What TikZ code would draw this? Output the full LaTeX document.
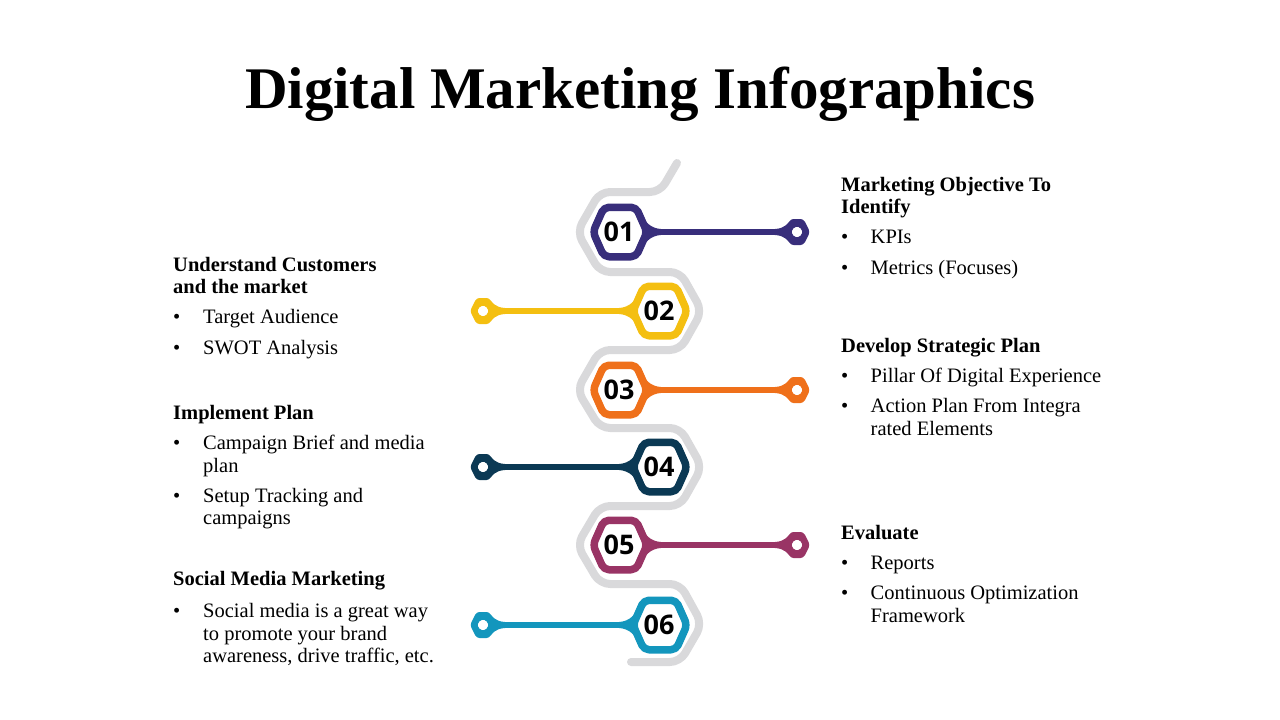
\documentclass[tikz,border=0pt]{standalone}
\usepackage{fontspec}
\setmainfont{Liberation Serif}
\newfontfamily\numfont{Open Sans}
\definecolor{cgrey}{RGB}{217,217,219}
\definecolor{cone}{RGB}{56,46,123}
\definecolor{ctwo}{RGB}{244,191,17}
\definecolor{cthree}{RGB}{239,112,26}
\definecolor{cfour}{RGB}{11,57,84}
\definecolor{cfive}{RGB}{153,52,101}
\definecolor{csix}{RGB}{19,150,189}
\tikzset{
  txt/.style={anchor=base west, inner sep=0pt, font=\fontsize{20.5}{24}\selectfont},
  hd/.style={anchor=base west, inner sep=0pt, font=\fontsize{20.5}{24}\selectfont\bfseries},
  num/.style={inner sep=0pt, font=\numfont\bfseries\fontsize{27}{30}\selectfont},
  spine/.style={draw=cgrey, line width=8pt, rounded corners=10pt, line cap=round, line join=round},
}
\newcommand\hexstep[6]{%
  \begin{scope}[shift={(#2,#3)}, xscale=#4]
    \draw[line width=5.5pt, #5] (25,0) -- (160,0);
    \fill[#5] (0,-20) -- (19,-21) .. controls (27,-6) and (33,-2.75) .. (46,-2.75) -- (46,2.75) .. controls (33,2.75) and (27,6) .. (19,21) -- (0,20) -- cycle;
    \fill[#5] (148,-2.75) .. controls (160,-2.75) and (164,-4) .. (169,-10) -- (169,10) .. controls (164,4) and (160,2.75) .. (148,2.75) -- cycle;
    \fill[#5, rounded corners=3pt] (177,-13) -- (183.5,-13) -- (190,0) -- (183.5,13) -- (170.5,13) -- (164,0) -- (170.5,-13) -- cycle;
    \fill[white, rounded corners=1.5pt] (177,-4.8) -- (179.8,-4.8) -- (182.5,0) -- (179.8,4.8) -- (174.2,4.8) -- (171.5,0) -- (174.2,-4.8) -- cycle;
    \draw[#5, line width=7.5pt, fill=white, rounded corners=5pt, line join=round] (0,-24.75) -- (16,-24.75) -- (27,0) -- (16,24.75) -- (-16,24.75) -- (-27,0) -- (-16,-24.75) -- cycle;
    \coordinate (#1cap) at (177,0);
  \end{scope}
  \node[num] (#1) at (#2-1,#3) {#6};
}
\begin{document}
\begin{tikzpicture}[x=1pt, y=-1pt]
\useasboundingbox (0,0) rectangle (1280,720);
\fill[white] (0,0) rectangle (1280,720);

% title
\node[anchor=base, inner sep=0pt, font=\fontsize{59}{62}\selectfont\bfseries] (title) at (640,108) {Digital Marketing Infographics};

% grey spine
\draw[spine] (677,163) -- (660,192) -- (600,192) -- (577,232) -- (600,272) -- (680,272) -- (702,311) -- (680,350) -- (600,350) -- (577,390) -- (600,428) -- (680,428) -- (702,467) -- (680,506) -- (600,506) -- (577,545) -- (600,584) -- (680,584) -- (702,624) -- (680,662) -- (631,662);

% steps
\hexstep{s1}{620}{232}{1}{cone}{01}
\hexstep{s2}{660}{311}{-1}{ctwo}{02}
\hexstep{s3}{620}{390}{1}{cthree}{03}
\hexstep{s4}{660}{467}{-1}{cfour}{04}
\hexstep{s5}{620}{545}{1}{cfive}{05}
\hexstep{s6}{660}{625}{-1}{csix}{06}

% right texts
\node[hd] (r1a) at (841,191.5) {Marketing Objective To};
\node[hd] (r1b) at (841,213.5) {Identify};
\node[txt] (r1c) at (841,243.5) {\textbullet};
\node[txt] (r1d) at (870.5,243.5) {KPIs};
\node[txt] (r1e) at (841,274) {\textbullet};
\node[txt] (r1f) at (870.5,274) {Metrics (Focuses)};

\node[hd] (r3a) at (841,352.5) {Develop Strategic Plan};
\node[txt] (r3b) at (841,382.5) {\textbullet};
\node[txt] (r3c) at (870.5,382.5) {Pillar Of Digital Experience};
\node[txt] (r3d) at (841,412.5) {\textbullet};
\node[txt] (r3e) at (870.5,412.5) {Action Plan From Integra};
\node[txt] (r3f) at (870.5,435.5) {rated Elements};

\node[hd] (r5a) at (841,539) {Evaluate};
\node[txt] (r5b) at (841,569) {\textbullet};
\node[txt] (r5c) at (870.5,569) {Reports};
\node[txt] (r5d) at (841,599) {\textbullet};
\node[txt] (r5e) at (870.5,599) {Continuous Optimization};
\node[txt] (r5f) at (870.5,622) {Framework};

% left texts
\node[hd] (l2a) at (173,271.5) {Understand Customers};
\node[hd] (l2b) at (173,293) {and the market};
\node[txt] (l2c) at (173,323) {\textbullet};
\node[txt] (l2d) at (203,323) {Target Audience};
\node[txt] (l2e) at (173,354) {\textbullet};
\node[txt] (l2f) at (203,354) {SWOT Analysis};

\node[hd] (l4a) at (173,419) {Implement Plan};
\node[txt] (l4b) at (173,449.5) {\textbullet};
\node[txt] (l4c) at (203,449.5) {Campaign Brief and media};
\node[txt] (l4d) at (203,472.5) {plan};
\node[txt] (l4e) at (173,502.5) {\textbullet};
\node[txt] (l4f) at (203,502.5) {Setup Tracking and};
\node[txt] (l4g) at (203,524) {campaigns};

\node[hd] (l6a) at (173,585.5) {Social Media Marketing};
\node[txt] (l6b) at (173,617) {\textbullet};
\node[txt] (l6c) at (203,617) {Social media is a great way};
\node[txt] (l6d) at (203,640) {to promote your brand};
\node[txt] (l6e) at (203,662) {awareness, drive traffic, etc.};
\end{tikzpicture}
\end{document}
